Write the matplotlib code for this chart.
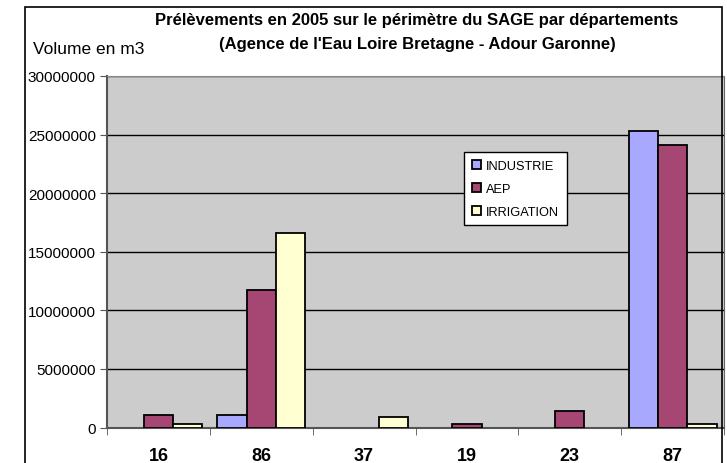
import matplotlib
matplotlib.use("Agg")
from matplotlib import pyplot as plt
from matplotlib.patches import Rectangle
import numpy as np

departements = ["16", "86", "37", "19", "23", "87"]
industrie = [0, 1050000, 0, 0, 0, 25300000]
aep = [1100000, 11750000, 0, 310000, 1370000, 24100000]
irrigation = [330000, 16600000, 870000, 0, 0, 300000]

series = [("INDUSTRIE", industrie, "#A8A8FF"),
          ("AEP", aep, "#A64672"),
          ("IRRIGATION", irrigation, "#FFFFD2")]

plt.rcParams['font.family'] = ['Liberation Sans', 'DejaVu Sans']

fig = plt.figure(figsize=(7.27, 4.64), dpi=100)
ax = fig.add_axes([107/727, 1-428.5/464, (724-107)/727, (428.5-77)/464])
ax.set_facecolor("#CCCCCC")

x = np.arange(len(departements))
w = 1/3.5
for k, (nom, vals, couleur) in enumerate(series):
    v = np.array(vals, dtype=float)
    v[v == 0] = np.nan  # Excel ne dessine rien pour 0
    ax.bar(x + (k-1)*w, v, width=w, color=couleur, edgecolor="black",
           linewidth=1.3, label=nom, zorder=3)

ax.set_xlim(-0.5, len(departements)-0.5)
ax.set_ylim(0, 30000000)
ax.set_yticks(np.arange(0, 30000001, 5000000))
ax.set_yticklabels([str(v) for v in range(0, 30000001, 5000000)], fontsize=11)
ax.yaxis.grid(True, color="black", linewidth=1, zorder=1)
ax.set_axisbelow(True)

ax.set_xticks(x)
ax.set_xticklabels(departements, fontsize=13, fontweight="bold")
ax.tick_params(axis="x", which="major", length=0, pad=14)
ax.set_xticks(np.arange(-0.5, len(departements)), minor=True)
ax.tick_params(axis="x", which="minor", length=5, color="#555555")
ax.tick_params(axis="y", length=5, color="#555555", pad=3)

for s in ["left", "bottom"]:
    ax.spines[s].set_color("#555555")
    ax.spines[s].set_linewidth(1.5)
ax.spines["top"].set_color("#888888")
ax.spines["right"].set_color("#666666")

leg = ax.legend(loc="upper left", bbox_to_anchor=((458-107)/617, (428.5-147)/351.5),
                fontsize=9.2, frameon=True, fancybox=False, edgecolor="black",
                handlelength=0.7, handleheight=0.7, handletextpad=0.4,
                labelspacing=0.85, borderpad=0.6)
leg.get_frame().set_linewidth(1)
leg.get_frame().set_facecolor("white")
leg.get_frame().set_alpha(1)

fig.text(417/727, 1-20/464, "Prélèvements en 2005 sur le périmètre du SAGE par départements",
         ha="center", va="center", fontsize=12, fontweight="bold")
fig.text(417/727, 1-44/464, "(Agence de l'Eau Loire Bretagne - Adour Garonne)",
         ha="center", va="center", fontsize=12, fontweight="bold")
fig.text(33/727, 1-49/464, "Volume en m3", ha="left", va="center", fontsize=12.5)

# cadre du graphique
fig.patches.append(Rectangle((25/727, -0.1), (722-25)/727, 1.1-8/464,
                             transform=fig.transFigure, fill=False,
                             edgecolor="black", linewidth=1.2, zorder=0))

fig.savefig("out.png", dpi=100)
